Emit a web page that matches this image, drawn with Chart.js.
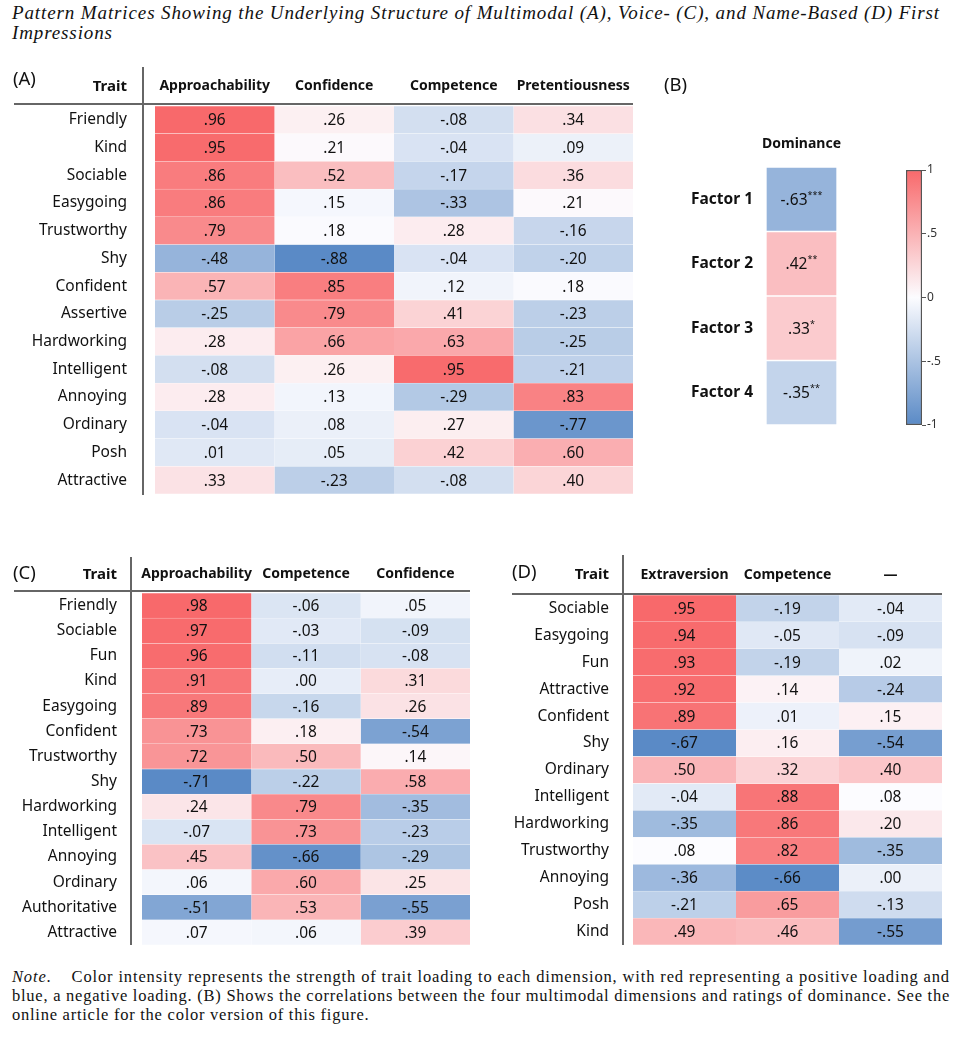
<!DOCTYPE html>
<html>
<head>
<meta charset="utf-8">
<script src="https://cdn.jsdelivr.net/npm/chart.js@4.4.1/dist/chart.umd.min.js"></script>
<style>
  body { margin: 0; width: 963px; height: 1040px; position: relative; overflow: hidden; background: #fff; }
  .box { position: absolute; }
  #title { position: absolute; left: 12px; top: 3px; font: italic 19px 'Liberation Serif', serif; line-height: 19.5px; color: #111; }
  #note { position: absolute; left: 12px; top: 967px; font: 16.5px 'Liberation Serif', serif; line-height: 19px; color: #111; }
  #title div, #note div { white-space: nowrap; }
</style>
</head>
<body>
<div id="title">
  <div><span data-w="928">Pattern Matrices Showing the Underlying Structure of Multimodal (A), Voice- (C), and Name-Based (D) First</span></div>
  <div><span>Impressions</span></div>
</div>

<div class="box" style="left:0;top:60px;width:640px;height:440px"><canvas id="chartA"></canvas></div>
<div class="box" style="left:640px;top:60px;width:250px;height:440px"><canvas id="chartB"></canvas></div>
<div class="box" style="left:890px;top:160px;width:73px;height:280px"><canvas id="chartBar"></canvas></div>
<div class="box" style="left:0;top:550px;width:480px;height:400px"><canvas id="chartC"></canvas></div>
<div class="box" style="left:490px;top:550px;width:473px;height:400px"><canvas id="chartD"></canvas></div>

<div id="note">
  <div><span data-w="938"><i>Note</i>.&nbsp;&nbsp;&nbsp; Color intensity represents the strength of trait loading to each dimension, with red representing a positive loading and</span></div>
  <div><span data-w="938">blue, a negative loading. (B) Shows the correlations between the four multimodal dimensions and ratings of dominance. See the</span></div>
  <div><span>online article for the color version of this figure.</span></div>
</div>

<script>
// (A) multimodal
const traitsA = ['Friendly', 'Kind', 'Sociable', 'Easygoing', 'Trustworthy', 'Shy', 'Confident',
  'Assertive', 'Hardworking', 'Intelligent', 'Annoying', 'Ordinary', 'Posh', 'Attractive'];
const dimsA = ['Approachability', 'Confidence', 'Competence', 'Pretentiousness'];
const approachA  = [.96, .95, .86, .86, .79, -.48, .57, -.25, .28, -.08, .28, -.04, .01, .33];
const confidA    = [.26, .21, .52, .15, .18, -.88, .85, .79, .66, .26, .13, .08, .05, -.23];
const competA    = [-.08, -.04, -.17, -.33, .28, -.04, .12, .41, .63, .95, -.29, .27, .42, -.08];
const pretentA   = [.34, .09, .36, .21, -.16, -.20, .18, -.23, -.25, -.21, .83, -.77, .60, .40];

// (B) dominance correlations
const factorsB = ['Factor 1', 'Factor 2', 'Factor 3', 'Factor 4'];
const dominance = [-.63, .42, .33, -.35];
const domStars  = ['***', '**', '*', '**'];
const barTicks  = [-1, -.5, 0, .5, 1];

// (C) voice
const traitsC = ['Friendly', 'Sociable', 'Fun', 'Kind', 'Easygoing', 'Confident', 'Trustworthy',
  'Shy', 'Hardworking', 'Intelligent', 'Annoying', 'Ordinary', 'Authoritative', 'Attractive'];
const dimsC = ['Approachability', 'Competence', 'Confidence'];
const approachC = [.98, .97, .96, .91, .89, .73, .72, -.71, .24, -.07, .45, .06, -.51, .07];
const competC   = [-.06, -.03, -.11, .00, -.16, .18, .50, -.22, .79, .73, -.66, .60, .53, .06];
const confidC   = [.05, -.09, -.08, .31, .26, -.54, .14, .58, -.35, -.23, -.29, .25, -.55, .39];

// (D) name-based
const traitsD = ['Sociable', 'Easygoing', 'Fun', 'Attractive', 'Confident', 'Shy', 'Ordinary',
  'Intelligent', 'Hardworking', 'Trustworthy', 'Annoying', 'Posh', 'Kind'];
const dimsD = ['Extraversion', 'Competence', '\u2014'];
const extraD  = [.95, .94, .93, .92, .89, -.67, .50, -.04, -.35, .08, -.36, -.21, .49];
const competD = [-.19, -.05, -.19, .14, .01, .16, .32, .88, .86, .82, -.66, .65, .46];
const thirdD  = [-.04, -.09, .02, -.24, .15, -.54, .40, .08, .20, -.35, .00, -.13, -.55];

const FONT = "'Noto Sans', sans-serif";
const INK = '#111';
const BLUE = [90, 138, 198], WHITE = [252, 252, 255], RED = [248, 105, 107];

// typeset look: stretch letter spacing so a line fills its width, next lines reuse it
document.querySelectorAll('#title, #note').forEach(block => {
  let ls = 0;
  block.querySelectorAll('span').forEach(sp => {
    const target = +sp.dataset.w;
    if (target) {
      const w = sp.getBoundingClientRect().width;
      ls = (target - w) / sp.textContent.length;
    }
    sp.style.letterSpacing = ls + 'px';
  });
});

const rgb = c => `rgb(${c.join(',')})`;
const mix = (a, b, t) => rgb(a.map((x, i) => Math.round(x + (b[i] - x) * Math.min(1, t))));
const colourScale = (lo, mid, hi) => v =>
  v >= mid ? mix(WHITE, RED, (v - mid) / (hi - mid)) : mix(WHITE, BLUE, (mid - v) / (mid - lo));
const median = a => {
  const s = [...a].sort((x, y) => x - y), r = (s.length - 1) / 2, i = Math.floor(r);
  return s[i] + (s[Math.ceil(r)] - s[i]) * (r - i);
};
// excel-style 3 colour scale: min / 50th percentile / max of the panel
const panelScale = series => {
  const all = series.flat();
  return colourScale(Math.min(...all), median(all), Math.max(...all));
};
const fmt = v => (v < 0 ? '-' : '') + Math.abs(v).toFixed(2).replace(/^0/, '');
const tickFmt = v => v === 0 ? '0' : (v < 0 ? '-' : '') + String(Math.abs(v)).replace(/^0/, '');

// value text in the middle of each cell (+ optional stars as superscript)
const cellText = {
  id: 'cellText',
  afterDatasetsDraw(chart) {
    const { ctx } = chart;
    ctx.save();
    ctx.fillStyle = INK;
    ctx.textBaseline = 'middle';
    ctx.textAlign = 'left';
    chart.data.datasets.forEach((ds, i) => {
      chart.getDatasetMeta(i).data.forEach((bar, j) => {
        const cx = (bar.x + bar.base) / 2, txt = fmt(ds.vals[j]);
        const star = ds.stars ? ds.stars[j] : '';
        ctx.font = `15.5px ${FONT}`;
        const w1 = ctx.measureText(txt).width;
        ctx.font = `9px ${FONT}`;
        const w2 = star ? ctx.measureText(star).width : 0;
        const x = cx - (w1 + w2) / 2;
        ctx.font = `15.5px ${FONT}`;
        ctx.fillText(txt, x, bar.y + 1);
        if (star) { ctx.font = `9px ${FONT}`; ctx.fillText(star, x + w1, bar.y - 4); }
      });
    });
    ctx.restore();
  }
};

// panel tag, "Trait" heading and rule lines
const frame = {
  id: 'frame',
  afterDraw(chart, args, o) {
    const { ctx } = chart;
    ctx.save();
    ctx.fillStyle = INK;
    ctx.textBaseline = 'middle';
    ctx.font = `18.5px ${FONT}`;
    ctx.textAlign = 'left';
    ctx.fillText(o.tag, o.tagX, o.tagY);
    if (o.traitX) {
      ctx.font = `bold 15px ${FONT}`;
      ctx.textAlign = 'right';
      ctx.fillText('Trait', o.traitX, o.traitY);
      ctx.strokeStyle = '#666';
      ctx.lineWidth = 2;
      ctx.beginPath();
      ctx.moveTo(o.vx, o.vy0); ctx.lineTo(o.vx, o.vy1);
      ctx.moveTo(o.hx0, o.hy); ctx.lineTo(o.hx1, o.hy);
      ctx.stroke();
    }
    ctx.restore();
  }
};

function matrix(id, rows, cols, series, g) {
  const colour = g.scale || panelScale(series);
  return new Chart(document.getElementById(id), {
    type: 'bar',
    data: {
      labels: rows,
      datasets: series.map((vals, c) => ({
        data: vals.map(() => [c, c + 1]),
        vals,
        stars: g.stars,
        backgroundColor: vals.map(colour),
        borderColor: g.gap ? '#fff' : 'rgba(255,255,255,0.5)',
        borderWidth: g.gap ? g.gap : { top: 0.5, bottom: 0.5, left: 0, right: 0 },
        borderSkipped: false,
        barPercentage: 1,
        categoryPercentage: 1,
        grouped: false
      }))
    },
    options: {
      indexAxis: 'y',
      responsive: true,
      maintainAspectRatio: false,
      animation: false,
      events: [],
      layout: { padding: g.pad },
      plugins: { legend: { display: false }, tooltip: { enabled: false }, frame: g.frame },
      scales: {
        x: { type: 'linear', min: 0, max: cols.length, display: false },
        x2: {
          type: 'category', labels: cols, position: 'top', offset: true,
          grid: { display: false, drawTicks: false }, border: { display: false },
          ticks: { color: INK, font: { family: FONT, size: 14, weight: 'bold' }, padding: g.headPad, maxRotation: 0, autoSkip: false },
          afterFit: s => { s.height = g.headH; s.paddingLeft = 0; s.paddingRight = 0; }
        },
        y: {
          grid: { display: false, drawTicks: false }, border: { display: false },
          ticks: { color: INK, font: { family: FONT, size: 15.5, weight: g.rowWeight || 'normal' }, padding: g.rowPad, autoSkip: false },
          afterFit: s => { s.width = g.labW; s.paddingTop = 0; s.paddingBottom = 0; }
        }
      }
    },
    plugins: [cellText, frame]
  });
}

matrix('chartA', traitsA, dimsA, [approachA, confidA, competA, pretentA], {
  pad: { left: 0, top: 0, right: 7, bottom: 6 }, labW: 155, headH: 46, headPad: 12, rowPad: 28,
  frame: { tag: '(A)', tagX: 13, tagY: 20, traitX: 127, traitY: 27, vx: 143, vy0: 7, vy1: 435, hx0: 14, hx1: 633, hy: 44 }
});

matrix('chartB', factorsB, ['Dominance'], [dominance], {
  scale: colourScale(-1, 0, 1), stars: domStars, gap: 1,
  pad: { left: 0, top: 0, right: 53, bottom: 75 }, labW: 126, headH: 107, headPad: 15, rowPad: 13,
  rowWeight: 'bold',
  frame: { tag: '(B)', tagX: 24, tagY: 26 }
});

matrix('chartC', traitsC, dimsC, [approachC, competC, confidC], {
  pad: { left: 0, top: 0, right: 10, bottom: 5 }, labW: 142, headH: 43, headPad: 11, rowPad: 25,
  frame: { tag: '(C)', tagX: 13, tagY: 24, traitX: 117, traitY: 25, vx: 131, vy0: 7, vy1: 395, hx0: 14, hx1: 470, hy: 41 }
});

matrix('chartD', traitsD, dimsD, [extraD, competD, thirdD], {
  pad: { left: 0, top: 0, right: 21, bottom: 5 }, labW: 143, headH: 45, headPad: 12, rowPad: 24,
  frame: { tag: '(D)', tagX: 22, tagY: 23, traitX: 119, traitY: 25, vx: 133, vy0: 5, vy1: 395, hx0: 22, hx1: 452, hy: 44 }
});

// colour bar for panel B
new Chart(document.getElementById('chartBar'), {
  type: 'bar',
  data: {
    labels: [''],
    datasets: [{
      data: [[barTicks[0], barTicks[barTicks.length - 1]]],
      backgroundColor: c => {
        const a = c.chart.chartArea;
        if (!a) return null;
        const grad = c.chart.ctx.createLinearGradient(0, a.bottom, 0, a.top);
        grad.addColorStop(0, rgb(BLUE));
        grad.addColorStop(0.5, rgb(WHITE));
        grad.addColorStop(1, rgb(RED));
        return grad;
      },
      borderColor: '#555', borderWidth: 1.5, borderSkipped: false,
      barPercentage: 1, categoryPercentage: 1
    }]
  },
  options: {
    responsive: true, maintainAspectRatio: false, animation: false, events: [],
    layout: { padding: { left: 16, top: 10, right: 0, bottom: 15 } },
    plugins: { legend: { display: false }, tooltip: { enabled: false } },
    scales: {
      x: { display: false },
      y: {
        position: 'right', min: -1, max: 1,
        afterBuildTicks: s => { s.ticks = barTicks.map(v => ({ value: v })); },
        afterFit: s => { s.width = 41; s.paddingTop = 0; s.paddingBottom = 0; },
        grid: { drawOnChartArea: false, tickLength: 4, color: '#555' }, border: { display: false },
        ticks: { color: '#333', font: { family: FONT, size: 12 }, padding: 1, callback: v => tickFmt(v) }
      }
    }
  }
});
</script>
</body>
</html>
